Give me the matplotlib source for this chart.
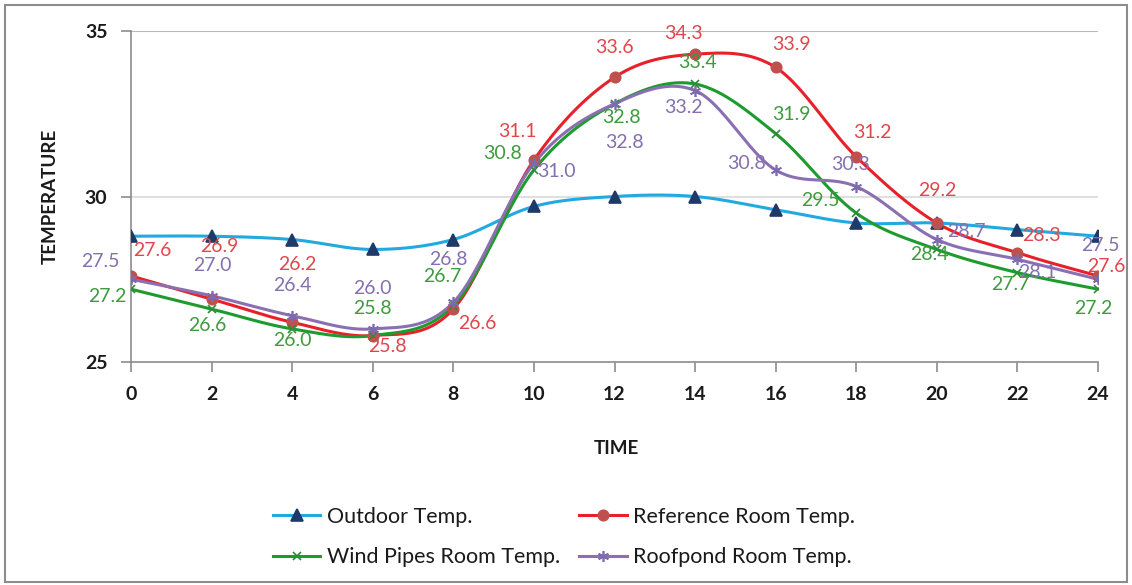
import numpy as np
import matplotlib.pyplot as plt
from matplotlib.lines import Line2D
from matplotlib.patches import Rectangle

plt.rcParams['font.family'] = ['Lato', 'DejaVu Sans']

# data
hours = [0, 2, 4, 6, 8, 10, 12, 14, 16, 18, 20, 22, 24]
outdoor = [28.8, 28.8, 28.7, 28.4, 28.7, 29.7, 30.0, 30.0, 29.6, 29.2, 29.2, 29.0, 28.8]
reference = [27.6, 26.9, 26.2, 25.8, 26.6, 31.1, 33.6, 34.3, 33.9, 31.2, 29.2, 28.3, 27.6]
windpipes = [27.2, 26.6, 26.0, 25.8, 26.7, 30.8, 32.8, 33.4, 31.9, 29.5, 28.4, 27.7, 27.2]
roofpond = [27.5, 27.0, 26.4, 26.0, 26.8, 31.0, 32.8, 33.2, 30.8, 30.3, 28.7, 28.1, 27.5]

# label offsets in pixels (dx right, dy down) from each point
ref_off = [(21, -25), (8, -53), (5, -58), (15, 11), (24, 14), (-17, -29), (0, -30),
           (-12, -21), (16, -23), (16, -24), (0, -32), (24, -17), (8, -9)]
wind_off = [(-24, 7), (-4, 16), (0, 12), (0, -27), (-11, -29), (-31, -17), (7, 14),
            (2, -21), (16, -19), (-36, -13), (-7, 5), (-7, 12), (-5, 19)]
roof_off = [(-31, -18), (1, -30), (0, -30), (0, -40), (-5, -43), (23, 8), (10, 39),
            (-12, 17), (-29, -7), (-6, -22), (30, -8), (20, 13), (2, -34)]


def smooth(x, y, n=30):
    # excel style smoothed line: bezier through points (catmull-rom)
    x = np.asarray(x, float)
    y = np.asarray(y, float)
    px = np.concatenate([[x[0]], x, [x[-1]]])
    py = np.concatenate([[y[0]], y, [y[-1]]])
    xs, ys = [], []
    t = np.linspace(0, 1, n)
    for i in range(1, len(px) - 2):
        p0x, p1x, p2x, p3x = px[i - 1], px[i], px[i + 1], px[i + 2]
        p0y, p1y, p2y, p3y = py[i - 1], py[i], py[i + 1], py[i + 2]
        c1x, c1y = p1x + (p2x - p0x) / 6, p1y + (p2y - p0y) / 6
        c2x, c2y = p2x - (p3x - p1x) / 6, p2y - (p3y - p1y) / 6
        bx = (1 - t)**3 * p1x + 3 * (1 - t)**2 * t * c1x + 3 * (1 - t) * t**2 * c2x + t**3 * p2x
        by = (1 - t)**3 * p1y + 3 * (1 - t)**2 * t * c1y + 3 * (1 - t) * t**2 * c2y + t**3 * p2y
        xs.extend(bx)
        ys.extend(by)
    return np.array(xs), np.array(ys)


fig = plt.figure(figsize=(11.32, 5.85), dpi=100)
ax = fig.add_axes([131 / 1132, 223 / 585, 967 / 1132, 331 / 585])

series = [
    (outdoor, 'Outdoor Temp.', '#22A9DF', '^', '#1F3A68', 8, None, None),
    (reference, 'Reference Room Temp.', '#E8202A', 'o', '#C0504D', 7.5, ref_off, '#E0474C'),
    (windpipes, 'Wind Pipes Room Temp.', '#1E9B2E', 'x', '#2E8B3A', 6, wind_off, '#3E9A3E'),
    (roofpond, 'Roofpond Room Temp.', '#8A70B2', (6, 2, 0), '#7E6AAE', 8, roof_off, '#8470AE'),
]

handles = {}
for vals, name, lc, mk, mc, ms, offs, tc in series:
    sx, sy = smooth(hours, vals)
    ax.plot(sx, sy, color=lc, lw=2.2, zorder=3, solid_capstyle='round')
    ax.plot(hours, vals, ls='none', marker=mk, color=mc, ms=ms, mew=1.2, zorder=4)
    handles[name] = Line2D([], [], color=lc, lw=2.2, marker=mk, mfc=mc, mec=mc, ms=ms, mew=1.2)
    if offs is not None:
        for h, v, (dx, dy) in zip(hours, vals, offs):
            ax.annotate(f'{v:.1f}', (h, v), xytext=(dx, -dy), textcoords='offset pixels',
                        ha='center', va='center', fontsize=14, color=tc, zorder=5)

ax.set_xlim(0, 24)
ax.set_ylim(25, 35)
ax.set_xticks(hours)
ax.set_yticks([25, 30, 35])
ax.axhline(30, color='#D9D9D9', lw=1.2, zorder=1)
ax.axhline(35, color='#A9BCD3', lw=1.5, zorder=1)

for s in ['top', 'right']:
    ax.spines[s].set_visible(False)
for s in ['left', 'bottom']:
    ax.spines[s].set_color('#8C8C8C')
    ax.spines[s].set_linewidth(1.2)
ax.tick_params(axis='both', direction='out', length=7, color='#8C8C8C', width=1.2,
               labelsize=14, pad=10)
for lab in ax.get_xticklabels() + ax.get_yticklabels():
    lab.set_fontweight('bold')
    lab.set_color('#1A1A1A')

fig.text(50 / 1132, 1 - 196 / 585, 'TEMPERATURE', rotation=90, ha='center', va='center',
         fontsize=13.5, fontweight='bold', color='#1A1A1A')
fig.text(616 / 1132, 1 - 448 / 585, 'TIME', ha='center', va='center',
         fontsize=13.5, fontweight='bold', color='#1A1A1A')

# legend rows: Outdoor / Reference, then Wind Pipes / Roofpond (filled column-wise)
order = ['Outdoor Temp.', 'Wind Pipes Room Temp.', 'Reference Room Temp.', 'Roofpond Room Temp.']
leg = fig.legend([handles[k] for k in order], order, ncol=2, loc='center left',
                 bbox_to_anchor=(273 / 1132, 1 - 537 / 585), frameon=False,
                 fontsize=15.5, handlelength=2.2, handletextpad=0.3,
                 columnspacing=0.9, labelspacing=0.95, borderpad=0, borderaxespad=0)
for t in leg.get_texts():
    t.set_color('#1A1A1A')

fig.patches.append(Rectangle((5 / 1132, 3 / 585), 1122 / 1132, 577 / 585,
                             transform=fig.transFigure, fill=False,
                             edgecolor='#8C8C8C', lw=1.5))

fig.savefig('out.png', dpi=100)
